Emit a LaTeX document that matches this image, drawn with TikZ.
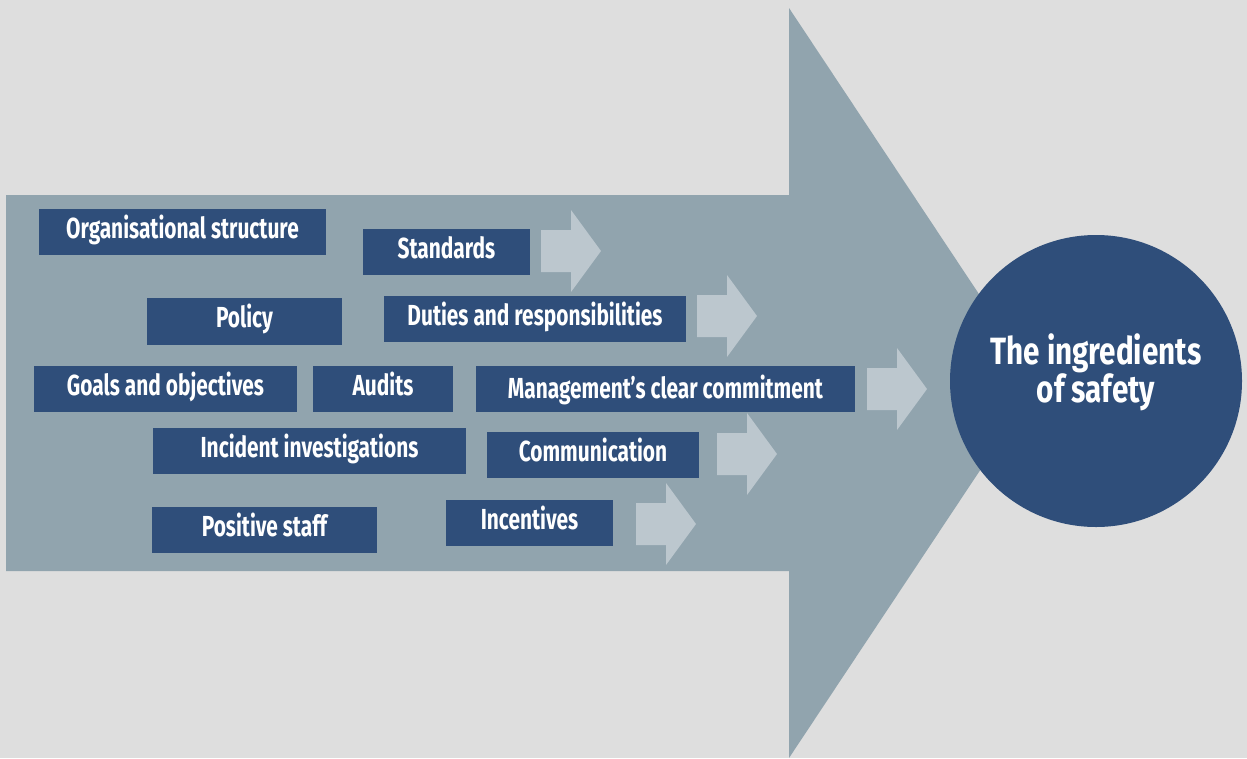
\documentclass[tikz,border=0pt]{standalone}
\usepackage{fontspec}
\newfontfamily\lab{Fira Sans}[FakeStretch=0.72]
\newfontfamily\circlefont{Fira Sans}[FakeStretch=0.78]
\definecolor{bgc}{HTML}{DEDEDE}
\definecolor{bigarrow}{HTML}{91A4AE}
\definecolor{boxblue}{HTML}{2F4E7A}
\definecolor{smallarrow}{HTML}{BCC7CE}
\tikzset{
  item/.style={fill=boxblue, text=white, inner sep=0pt, minimum height=46pt,
    text height=20pt, text depth=8pt,
    font=\lab\bfseries\fontsize{29}{31}\selectfont, align=center},
  blockarrow/.pic={\fill[smallarrow] (0,-21)--(30,-21)--(30,-41)--(60,0)--(30,41)--(30,21)--(0,21)--cycle;}
}
\begin{document}
\begin{tikzpicture}[x=1pt,y=-1pt]
\fill[bgc] (0,0) rectangle (1247,758);
\useasboundingbox (0,0) rectangle (1247,758);
% big arrow
\fill[bigarrow] (6,195) -- (789,195) -- (789,8) -- (1038,383) -- (789,758) -- (789,571) -- (6,571) -- cycle;
% small arrows
\pic at (541,251) {blockarrow};
\pic at (697,316) {blockarrow};
\pic at (867,389) {blockarrow};
\pic at (717,454) {blockarrow};
\pic at (636,524) {blockarrow};
% boxes
\node[item, minimum width=287pt] (org) at (182.5,232) {Organisational structure};
\node[item, minimum width=167pt] (std) at (446.5,252) {Standards};
\node[item, minimum width=195pt, minimum height=47pt] (pol) at (244.5,321.5) {Policy};
\node[item, minimum width=302pt] (dut) at (535,319) {Duties and responsibilities};
\node[item, minimum width=263pt] (goal) at (165.5,389) {Goals and objectives};
\node[item, minimum width=140pt] (aud) at (383,389) {Audits};
\node[item, minimum width=379pt, text depth=2pt] (mgmt) at (665.5,389) {Management’s clear commitment};
\node[item, minimum width=313pt] (inc) at (309.5,451) {Incident investigations};
\node[item, minimum width=212pt] (comm) at (593,455) {Communication};
\node[item, minimum width=225pt] (pos) at (264.5,530) {Positive staff};
\node[item, minimum width=167pt] (incent) at (529.5,523) {Incentives};
% circle
\node[circle, fill=boxblue, minimum size=292pt, inner sep=0pt] (goalc) at (1096,381) {};
\node[text=white, align=center, inner sep=0pt,
  font=\circlefont\bfseries\fontsize{38}{37}\selectfont] (goalt) at (1096,372) {The ingredients\\of safety};
\end{tikzpicture}
\end{document}
